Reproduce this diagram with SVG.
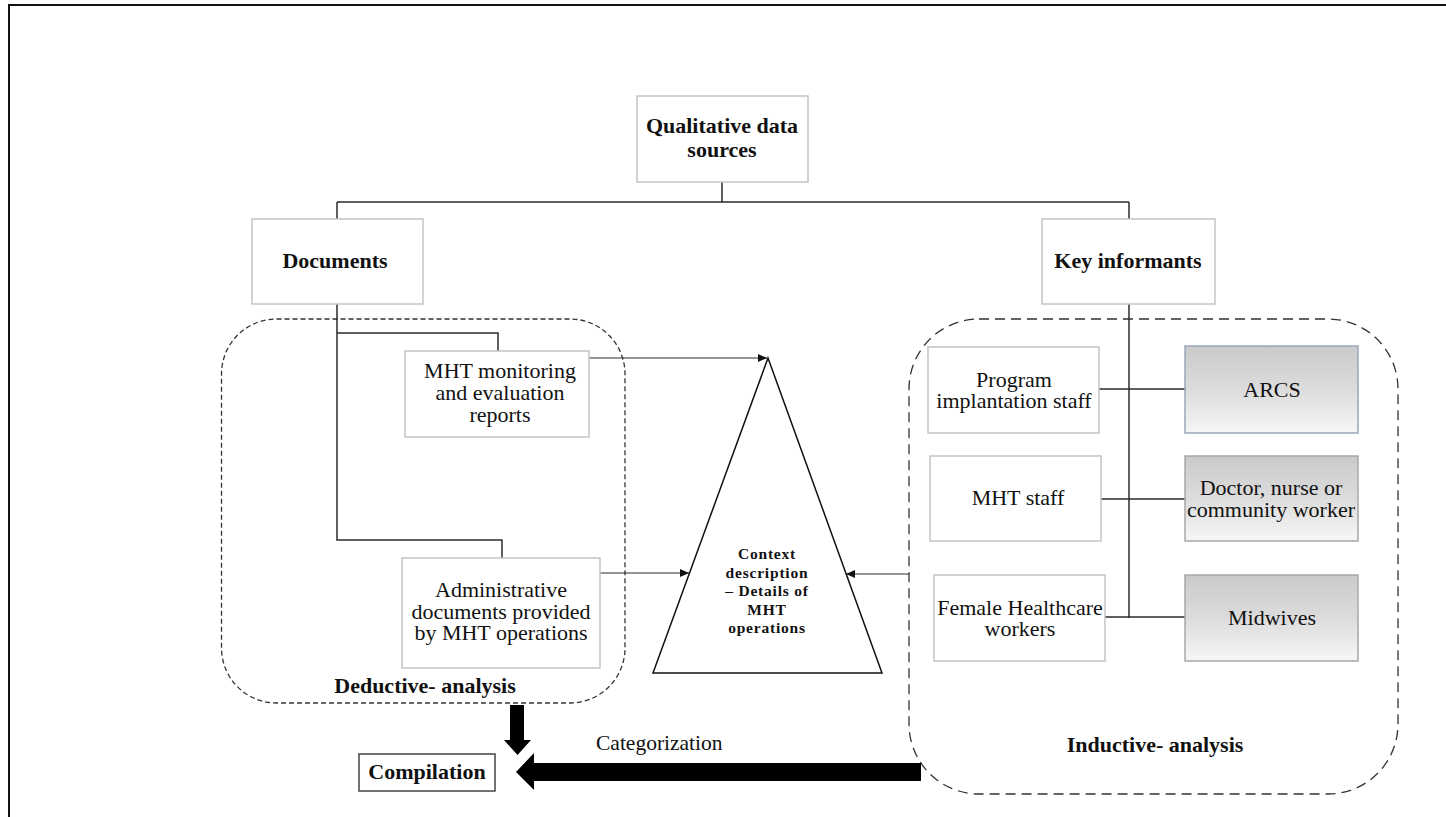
<svg xmlns="http://www.w3.org/2000/svg" width="1446" height="817" viewBox="0 0 1446 817">
  <defs>
    <linearGradient id="shade" x1="0" y1="0" x2="0" y2="1">
      <stop offset="0" stop-color="#cbcaca"/>
      <stop offset="0.5" stop-color="#dcdcdc"/>
      <stop offset="1" stop-color="#f6f6f6"/>
    </linearGradient>
    <marker id="ah" markerUnits="userSpaceOnUse" markerWidth="9" markerHeight="8" refX="9" refY="4" orient="auto">
      <path d="M0,0 L9,4 L0,8 z" fill="#111"/>
    </marker>
  </defs>
  <style>
    .box{fill:#fff;stroke:#c4c4c4;stroke-width:1.5}
    .gbox{fill:url(#shade);stroke:#a8a8a8;stroke-width:1.5}
    .t{font-family:"Liberation Serif","Times New Roman",serif;font-size:22px;fill:#111;text-anchor:middle}
    .b{font-weight:bold}
    .tri{font-size:15.5px;letter-spacing:0.8px}
    .cat{font-size:21.5px;text-anchor:start}
    .ln{stroke:#2b2b2b;stroke-width:1.5;fill:none}
    .ar{stroke:#2b2b2b;stroke-width:1;fill:none;marker-end:url(#ah)}
    .region1{fill:none;stroke:#333;stroke-width:1.3;stroke-dasharray:5 3}
    .region2{fill:none;stroke:#333;stroke-width:1.3;stroke-dasharray:10 6}
  </style>

  <rect width="1446" height="817" fill="#fff"/>
  <!-- page frame -->
  <path d="M9 817 V5 H1446" fill="none" stroke="#111" stroke-width="2"/>

  <!-- analysis regions -->
  <g id="deductive-region">
    <rect class="region1" x="221.5" y="319" width="403.5" height="384" rx="55" ry="55"/>
    <text class="t b" x="425" y="693">Deductive- analysis</text>
  </g>
  <g id="inductive-region">
    <rect class="region2" x="909" y="319" width="489" height="475" rx="70" ry="70"/>
    <text class="t b" x="1155" y="752">Inductive- analysis</text>
  </g>

  <!-- connectors -->
  <g id="connectors">
    <path class="ln" d="M722 182 V202 M337 202 H1129 M337 202 V219 M1129 202 V219"/>
    <path class="ln" d="M337 304 V540 H502 V558 M337 333 H498 V351"/>
    <path class="ln" d="M1129 304 V618" stroke-width="2.2"/>
    <path class="ln" d="M1099 389 H1185 M1101 499 H1185 M1105 617 H1185"/>
    <path class="ar" d="M589 358 H767"/>
    <path class="ar" d="M600 573 H689"/>
    <path class="ar" d="M909 574 H846"/>
    <polygon id="deduct-arrow" points="510,705 524,705 524,740 531,740 517.5,755 504,740 510,740" fill="#000"/>
    <polygon id="category-arrow" points="921,763 921,781 534,781 534,790 516,772 534,753 534,763" fill="#000"/>
    <text class="t cat" x="596" y="750">Categorization</text>
  </g>

  <!-- nodes -->
  <g id="qualitative-data-sources">
    <rect class="box" x="637" y="96" width="171" height="86"/>
    <text class="t b" x="722" y="133">Qualitative data</text>
    <text class="t b" x="722" y="157">sources</text>
  </g>
  <g id="documents">
    <rect class="box" x="252" y="219" width="171" height="85"/>
    <text class="t b" x="335" y="268">Documents</text>
  </g>
  <g id="key-informants">
    <rect class="box" x="1042" y="219" width="173" height="85"/>
    <text class="t b" x="1128" y="268">Key informants</text>
  </g>
  <g id="monitoring-reports">
    <rect class="box" x="405" y="351" width="184" height="86"/>
    <text class="t" x="500" y="378">MHT monitoring</text>
    <text class="t" x="500" y="400">and evaluation</text>
    <text class="t" x="500" y="422">reports</text>
  </g>
  <g id="administrative-documents">
    <rect class="box" x="402" y="558" width="198" height="110"/>
    <text class="t" x="501" y="597">Administrative</text>
    <text class="t" x="501" y="619">documents provided</text>
    <text class="t" x="501" y="640">by MHT operations</text>
  </g>
  <g id="context-description">
    <polygon points="768,358 882,673 653,673" fill="#fff" stroke="#111" stroke-width="1.5"/>
    <text class="t b tri" x="767" y="559">Context</text>
    <text class="t b tri" x="767" y="578">description</text>
    <text class="t b tri" x="767" y="596">– Details of</text>
    <text class="t b tri" x="767" y="615">MHT</text>
    <text class="t b tri" x="767" y="633">operations</text>
  </g>
  <g id="program-staff">
    <rect class="box" x="928" y="347" width="171" height="86"/>
    <text class="t" x="1014" y="387">Program</text>
    <text class="t" x="1014" y="408">implantation staff</text>
  </g>
  <g id="mht-staff">
    <rect class="box" x="930" y="456" width="171" height="85"/>
    <text class="t" x="1018" y="505">MHT staff</text>
  </g>
  <g id="female-healthcare-workers">
    <rect class="box" x="934" y="575" width="171" height="86"/>
    <text class="t" x="1020" y="615">Female Healthcare</text>
    <text class="t" x="1020" y="636">workers</text>
  </g>
  <g id="arcs">
    <rect class="gbox" x="1185" y="346" width="173" height="87" style="stroke:#9aa6bd"/>
    <text class="t" x="1272" y="397">ARCS</text>
  </g>
  <g id="doctor-nurse">
    <rect class="gbox" x="1185" y="456" width="173" height="85"/>
    <text class="t" x="1271" y="495">Doctor, nurse or</text>
    <text class="t" x="1271" y="517">community worker</text>
  </g>
  <g id="midwives">
    <rect class="gbox" x="1185" y="575" width="173" height="86"/>
    <text class="t" x="1272" y="625">Midwives</text>
  </g>
  <g id="compilation">
    <rect x="359" y="754" width="136" height="37" fill="#fff" stroke="#444" stroke-width="1.5"/>
    <text class="t b" x="427" y="779">Compilation</text>
  </g>
</svg>
